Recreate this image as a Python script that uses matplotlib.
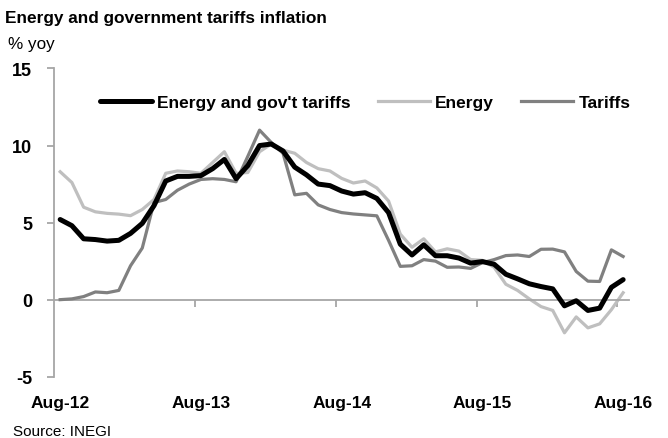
import matplotlib
matplotlib.use('Agg')
import matplotlib.pyplot as plt
import matplotlib.transforms as mtransforms
import numpy as np

plt.rcParams['font.family'] = ['Liberation Sans Narrow', 'Liberation Sans', 'DejaVu Sans']

# monthly, Aug-12 .. Aug-16, % yoy
months = ['Aug-12', 'Sep-12', 'Oct-12', 'Nov-12', 'Dec-12', 'Jan-13', 'Feb-13', 'Mar-13',
          'Apr-13', 'May-13', 'Jun-13', 'Jul-13', 'Aug-13', 'Sep-13', 'Oct-13', 'Nov-13',
          'Dec-13', 'Jan-14', 'Feb-14', 'Mar-14', 'Apr-14', 'May-14', 'Jun-14', 'Jul-14',
          'Aug-14', 'Sep-14', 'Oct-14', 'Nov-14', 'Dec-14', 'Jan-15', 'Feb-15', 'Mar-15',
          'Apr-15', 'May-15', 'Jun-15', 'Jul-15', 'Aug-15', 'Sep-15', 'Oct-15', 'Nov-15',
          'Dec-15', 'Jan-16', 'Feb-16', 'Mar-16', 'Apr-16', 'May-16', 'Jun-16', 'Jul-16',
          'Aug-16']
energy_gov = [5.2, 4.8, 3.95, 3.9, 3.8, 3.85, 4.3, 4.95, 6.1, 7.7, 8.0, 8.0,
              8.05, 8.5, 9.1, 7.85, 8.7, 10.0, 10.1, 9.65, 8.6, 8.1, 7.5, 7.4,
              7.05, 6.85, 6.94, 6.57, 5.65, 3.6, 2.9, 3.56, 2.85, 2.85, 2.7, 2.37,
              2.47, 2.3, 1.65, 1.35, 1.03, 0.85, 0.7, -0.4, -0.07, -0.7, -0.55, 0.8,
              1.3]
energy = [8.3, 7.6, 6.0, 5.7, 5.6, 5.55, 5.45, 5.85, 6.5, 8.2, 8.35, 8.3,
          8.2, 8.9, 9.6, 8.2, 8.25, 9.6, 10.1, 9.7, 9.5, 8.9, 8.5, 8.35,
          7.87, 7.57, 7.7, 7.25, 6.4, 4.25, 3.4, 3.95, 3.1, 3.3, 3.15, 2.6,
          2.55, 2.1, 1.0, 0.6, 0.05, -0.45, -0.7, -2.15, -1.12, -1.83, -1.57, -0.65,
          0.45]
tariffs = [0.0, 0.05, 0.2, 0.5, 0.45, 0.6, 2.2, 3.35, 6.3, 6.5, 7.1, 7.5,
           7.8, 7.85, 7.8, 7.65, 9.3, 11.0, 10.2, 9.5, 6.8, 6.9, 6.15, 5.85,
           5.65, 5.56, 5.5, 5.44, 3.85, 2.16, 2.2, 2.6, 2.5, 2.1, 2.12, 2.03,
           2.4, 2.6, 2.86, 2.9, 2.8, 3.27, 3.28, 3.1, 1.83, 1.2, 1.18, 3.23,
           2.8]
y_ticks = [-5, 0, 5, 10, 15]
label_every = 12

x = np.arange(len(months))
axis_grey = '#A6A6A6'

fig = plt.figure(figsize=(6.68, 4.39), dpi=100)
ax = fig.add_axes([0.0813, 0.1396, 0.8603, 0.7021])

ax.plot(x, energy, color='#BFBFBF', lw=2.3, label='Energy', zorder=2)
ax.plot(x, tariffs, color='#808080', lw=2.3, label='Tariffs', zorder=3)
ax.plot(x, energy_gov, color='black', lw=3.6, label="Energy and gov't tariffs",
        zorder=4, solid_capstyle='round')

ax.set_xlim(-0.5, len(months) - 0.5)
ax.set_ylim(-5, 15)

for s in ['top', 'right']:
    ax.spines[s].set_visible(False)
ax.spines['bottom'].set_position(('data', 0))
ax.spines['bottom'].set_color(axis_grey)
ax.spines['left'].set_color(axis_grey)
ax.spines['bottom'].set_linewidth(1.3)
ax.spines['left'].set_linewidth(1.3)

ax.set_yticks(y_ticks)
ax.set_yticklabels([str(v) for v in y_ticks], fontsize=13, fontweight='bold')
ax.tick_params(axis='y', direction='out', length=5, width=1.3, color=axis_grey, pad=11)

# tick marks at year boundaries, labels under the plot
bounds = np.arange(label_every - 0.5, len(months), label_every)
ax.set_xticks(bounds)
ax.set_xticklabels([])
ax.tick_params(axis='x', direction='out', length=5, width=1.3, color=axis_grey)
trans = mtransforms.blended_transform_factory(ax.transData, ax.transAxes)
for i in range(0, len(months), label_every):
    ax.text(i, -0.085, months[i], transform=trans, ha='center', va='center',
            fontsize=12.5, fontweight='bold')

handles, labels = ax.get_legend_handles_labels()
order = [2, 0, 1]
ax.legend([handles[k] for k in order], [labels[k] for k in order],
          loc='center', bbox_to_anchor=(0.541, 0.89), ncol=3, frameon=False,
          prop={'size': 12.5, 'weight': 'bold'}, handlelength=3.0,
          handletextpad=0.3, columnspacing=1.55)

fig.text(0.0075, 0.958, 'Energy and government tariffs inflation', fontsize=12.4,
         fontweight='bold', va='center', ha='left')
fig.text(0.012, 0.898, '% yoy', fontsize=12.3, va='center', ha='left')
fig.text(0.0195, 0.016, 'Source: INEGI', fontsize=11, va='center', ha='left')

fig.savefig('out.png', dpi=100)
